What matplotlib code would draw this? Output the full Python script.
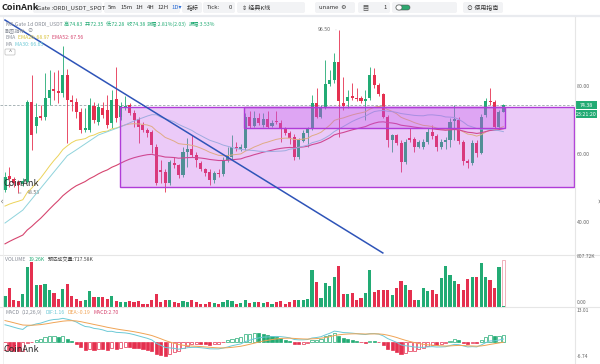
import numpy as np
import pandas as pd
import matplotlib
matplotlib.use("Agg")
import matplotlib.pyplot as plt
from matplotlib.patches import Rectangle, FancyBboxPatch

plt.rcParams["font.family"] = ["Noto Sans CJK SC", "DejaVu Sans"]

W, H = 600, 364
X0, STEP = 5, 4.45          # pixel of first candle, candle spacing
PLOT_RIGHT = 575

UP, DOWN = "#22ab74", "#e5304f"
GRAY = "#8a8f99"

# ---- daily ORDI/USDT candles ----
opens = [49.4, 53.5, 52.5, 51.9, 51.2, 51.9, 75.4, 68.2, 71.2, 70.8,
         76.6, 79.0, 78.5, 77.8, 83.2, 75.9, 75.4, 72.4, 67.1, 67.1,
         74.1, 69.5, 73.4, 72.9, 69.0, 76.1, 71.0, 73.6, 74.4, 72.2,
         70.2, 68.5, 67.1, 66.6, 62.2, 55.3, 54.8, 51.4, 57.4, 56.8,
         53.8, 60.7, 61.4, 59.7, 57.4, 55.5, 54.8, 52.3, 54.5, 54.1,
         58.2, 59.2, 62.2, 61.5, 61.7, 70.8, 68.2, 70.5, 68.5, 70.2,
         68.2, 69.8, 69.2, 67.5, 66.1, 65.1, 59.2, 63.9, 66.1, 67.5,
         74.9, 71.0, 73.7, 80.6, 81.8, 87.2, 74.9, 75.6, 77.0, 76.6,
         76.4, 75.6, 76.4, 83.2, 80.3, 77.6, 71.0, 64.1, 65.6, 63.1,
         57.7, 64.6, 64.3, 62.2, 62.1, 63.6, 66.6, 65.3, 62.0, 63.6,
         64.1, 69.8, 70.0, 63.6, 58.0, 57.4, 63.3, 60.2, 71.5, 75.7,
         75.3, 68.0, 72.35]
highs = [54.8, 56.3, 53.3, 52.3, 52.8, 75.9, 83.2, 74.9, 74.4, 83.7,
         84.7, 84.2, 84.7, 91.8, 85.0, 77.4, 76.4, 73.4, 73.5, 76.4,
         75.4, 75.0, 75.4, 77.4, 78.8, 85.7, 75.4, 77.0, 75.0, 73.0,
         70.8, 69.5, 67.5, 67.0, 63.0, 58.2, 55.5, 58.2, 59.2, 57.2,
         62.2, 64.6, 65.6, 60.5, 58.0, 56.0, 55.5, 55.0, 55.5, 59.0,
         62.2, 65.6, 63.5, 63.0, 72.0, 72.5, 72.5, 72.0, 72.0, 72.5,
         70.0, 72.5, 70.0, 68.0, 66.8, 65.8, 64.8, 67.0, 68.0, 77.4,
         79.3, 74.5, 87.6, 84.7, 89.6, 96.5, 82.7, 78.8, 80.8, 79.3,
         77.0, 78.8, 85.7, 85.2, 80.8, 78.0, 71.5, 66.0, 66.0, 64.0,
         64.3, 67.5, 65.0, 64.0, 64.3, 67.5, 68.5, 66.0, 64.3, 65.0,
         70.5, 74.4, 71.0, 64.0, 58.5, 64.0, 64.0, 71.8, 76.5, 79.3,
         75.8, 72.8, 74.83]
lows = [48.9, 50.4, 50.4, 48.53, 50.6, 51.5, 61.2, 66.1, 70.0, 70.0,
        74.4, 75.9, 74.9, 76.9, 63.1, 72.5, 70.5, 66.1, 66.6, 66.6,
        69.0, 68.5, 70.5, 67.5, 67.5, 69.5, 70.0, 73.0, 71.5, 68.0,
        63.1, 66.5, 65.0, 60.2, 50.9, 51.4, 48.9, 50.9, 55.8, 53.0,
        53.3, 56.3, 59.0, 56.3, 55.0, 53.5, 50.9, 51.5, 53.3, 53.5,
        57.5, 58.5, 61.0, 61.0, 61.2, 67.5, 67.8, 68.5, 68.0, 67.5,
        67.8, 68.8, 63.6, 65.5, 63.0, 58.2, 58.5, 63.5, 62.2, 67.0,
        70.5, 70.5, 73.2, 80.0, 81.0, 65.1, 73.0, 73.4, 76.0, 75.6,
        75.0, 70.0, 75.8, 79.5, 77.0, 70.5, 62.2, 60.7, 62.5, 54.8,
        57.0, 63.5, 60.5, 61.8, 61.5, 63.0, 64.5, 61.0, 61.5, 61.5,
        62.0, 64.0, 63.0, 56.8, 55.8, 56.8, 59.0, 60.0, 71.0, 74.5,
        67.3, 67.5, 72.28]
closes = [53.3, 52.5, 51.4, 50.9, 52.1, 75.4, 65.6, 71.0, 70.7, 76.4,
          78.8, 78.6, 78.0, 83.2, 75.9, 75.4, 72.4, 67.1, 67.6, 74.4,
          70.0, 73.7, 71.5, 68.5, 75.9, 70.5, 74.1, 74.1, 72.2, 70.0,
          68.0, 67.1, 66.1, 62.6, 51.4, 54.8, 51.4, 57.7, 56.8, 53.8,
          60.7, 61.4, 59.7, 58.2, 55.5, 54.3, 52.3, 54.3, 54.1, 58.2,
          59.7, 62.2, 61.7, 62.0, 71.0, 68.2, 70.5, 69.0, 70.2, 68.0,
          69.2, 69.3, 67.5, 66.1, 64.6, 59.2, 64.1, 66.1, 67.5, 74.9,
          71.0, 73.7, 80.6, 81.8, 87.2, 75.7, 74.1, 76.9, 76.6, 76.2,
          75.6, 76.3, 83.2, 80.3, 77.6, 71.0, 64.1, 65.6, 63.3, 57.7,
          63.6, 64.1, 62.0, 63.5, 63.6, 66.6, 65.3, 62.0, 63.6, 64.1,
          69.5, 70.2, 63.9, 58.0, 57.4, 63.3, 60.2, 71.0, 75.7, 75.3,
          68.0, 72.4, 74.38]
volumes_k = [161, 292, 101, 91, 201, 614, 680, 327, 327, 352,
             262, 211, 126, 277, 352, 161, 126, 91, 111, 237,
             151, 151, 151, 126, 161, 86, 75, 75, 86, 75,
             91, 40, 40, 111, 201, 75, 101, 111, 75, 60,
             91, 75, 101, 75, 40, 50, 75, 60, 50, 75,
             111, 91, 40, 60, 101, 60, 75, 75, 65, 75,
             40, 75, 91, 50, 75, 101, 111, 111, 126, 564,
             378, 136, 367, 312, 463, 619, 201, 201, 216, 101,
             136, 211, 564, 226, 262, 262, 262, 176, 287, 388,
             337, 252, 101, 101, 292, 242, 262, 191, 443, 629,
             493, 392, 352, 252, 428, 453, 463, 664, 453, 412,
             287, 604, 19.26]
est_volume_k = 717.58

# MA30 before 30 closes are available
ma30_early_idx = [0, 4, 14, 16, 21, 26]
ma30_early_val = [39.7, 43.5, 59.5, 61.2, 65.6, 68.0]

# indicator values just before the first visible candle
ema12_seed, ema26_seed, ema52_seed, dea_seed = 51.8, 44.0, 32.8, 9.6

# drawings on the chart
trend_idx = [0, 84.9]
trend_price = [99.4, 30.9]
zones = [(25.8, 127.9, 50.4, 73.9), (53.7, 112.4, 67.6, 73.9)]
last_price = 74.38
price_ticks = [80, 60, 40]


def px_rect(x0, y0, x1, y1):
    return [x0 / W, 1 - y1 / H, (x1 - x0) / W, (y1 - y0) / H]


def price_at(y):
    return 80 - (y - 86) / 3.4


def ema(values, n, seed):
    alpha = 2 / (n + 1)
    out, prev = [], seed
    for v in values:
        prev = prev + alpha * (v - prev)
        out.append(prev)
    return np.array(out)


o, h, l, c = map(np.array, (opens, highs, lows, closes))
idx = np.arange(len(c))
up = c >= o
colors = np.where(up, UP, DOWN)

ema26 = ema(c, 26, ema26_seed)
ema52 = ema(c, 52, ema52_seed)
ma30 = pd.Series(c).rolling(30).mean().to_numpy()
ma30_x = ma30_early_idx + list(idx[29:])
ma30_y = ma30_early_val + list(ma30[29:])

dif = ema(c, 12, ema12_seed) - ema26
dea = ema(dif, 9, dea_seed)
hist = 2 * (dif - dea)

fig = plt.figure(figsize=(W / 100, H / 100), dpi=100)
fig.patch.set_facecolor("white")
xlim = (-X0 / STEP, (PLOT_RIGHT - X0) / STEP)

# ---- price panel ----
ax = fig.add_axes(px_rect(0, 17, PLOT_RIGHT, 255))
ax.set_xlim(*xlim)
ax.set_ylim(price_at(255), price_at(17))
ax.axis("off")
ax.vlines(idx, l, h, color=colors, lw=0.6, zorder=2)
ax.bar(idx, np.maximum(np.abs(c - o), 0.2), bottom=np.minimum(o, c),
       width=0.68, color=colors, zorder=3)
ax.plot(idx, ema26, color="#ecd35a", lw=0.7, zorder=4)
ax.plot(idx, ema52, color="#d6456f", lw=0.8, zorder=4)
ax.plot(ma30_x, ma30_y, color="#8fd3dc", lw=0.7, zorder=4)
ax.axhline(last_price, color="#9aa7ab", lw=0.6, ls=(0, (3, 2)), zorder=1)
for x0, x1, lo, hi in zones:
    ax.add_patch(Rectangle((x0, lo), x1 - x0, hi - lo, fc="#c050e8",
                           alpha=0.3, ec="none", zorder=5))
    ax.add_patch(Rectangle((x0, lo), x1 - x0, hi - lo, fc="none",
                           ec="#b03cd8", lw=1.0, zorder=6))
ax.plot(trend_idx, trend_price, color="#2e54b8", lw=1.1, zorder=7)

top = int(np.argmax(h))
bot = int(np.argmin(l))
ax.annotate(f"{h[top]:.2f}", (top, h[top]), xytext=(-6, 0),
            textcoords="offset points", ha="right", va="center",
            fontsize=3.8, color="#666",
            arrowprops=dict(arrowstyle="-", color="#999", lw=0.5))
ax.annotate(f"{l[bot]:.2f}", (bot, l[bot]), xytext=(6, 0),
            textcoords="offset points", ha="left", va="center",
            fontsize=3.8, color="#666",
            arrowprops=dict(arrowstyle="-", color="#999", lw=0.5))

# ---- volume panel ----
axv = fig.add_axes(px_rect(0, 255, PLOT_RIGHT, 307))
axv.set_xlim(*xlim)
axv.set_ylim(0, 790)
axv.axis("off")
axv.bar(idx[-1], est_volume_k, width=0.7, fc="white", ec="#eda3b0", lw=0.6)
axv.bar(idx, volumes_k, width=0.7, color=colors)

# ---- MACD panel ----
axm = fig.add_axes(px_rect(0, 307, PLOT_RIGHT, 358))
axm.set_xlim(*xlim)
axm.set_ylim(-7.0, 15.0)
axm.axis("off")
rising = np.r_[True, hist[1:] >= hist[:-1]]
for i, v in enumerate(hist):
    col = UP if v >= 0 else DOWN
    hollow = (v >= 0 and rising[i]) or (v < 0 and rising[i])
    axm.bar(i, v, width=0.7, fc="white" if hollow else col, ec=col, lw=0.5)
axm.plot(idx, dif, color="#6cc9d6", lw=0.7)
axm.plot(idx, dea, color="#f0a455", lw=0.7)

# ---- overlay in pixel coordinates ----
ov = fig.add_axes([0, 0, 1, 1])
ov.set_xlim(0, W)
ov.set_ylim(H, 0)
ov.axis("off")
ov.patch.set_alpha(0)
renderer = fig.canvas.get_renderer()


def segments(x, y, parts, fs=4.0, gap=2.0):
    for s, col in parts:
        t = ov.text(x, y, s, color=col, fontsize=fs, ha="left", va="center")
        x += t.get_window_extent(renderer=renderer).width + gap


# frame lines
ov.plot([0, W], [16, 16], color="#e9ebef", lw=1.6)
ov.plot([0, W], [255, 255], color="#e6e6e6", lw=0.8)
ov.plot([0, W], [307, 307], color="#e6e6e6", lw=0.8)
ov.plot([PLOT_RIGHT, PLOT_RIGHT], [17, H], color="#e6e6e6", lw=0.8)
ov.plot([2.5, 2.5], [17, H], color="#eeeeee", lw=0.6)

# toolbar
for x0, x1 in [(33, 102), (104, 180), (182, 202), (203, 235), (237, 305),
               (315, 355), (358, 390), (392, 457), (463, 503)]:
    ov.add_patch(FancyBboxPatch((x0, 2), x1 - x0, 11,
                                boxstyle="round,pad=0,rounding_size=2",
                                fc="#f2f3f5", ec="none"))
ov.text(2, 8, "CoinAnk", fontsize=6.5, fontweight="bold", color="#222",
        va="center")
ov.text(37, 7.5, "Gate :ORDI_USDT_SPOT", fontsize=4.3, color="#333",
        va="center")
segments(108, 7.5, [("5m", "#333"), ("15m", "#333"), ("1H", "#333"),
                    ("4H", "#333"), ("12H", "#333"), ("1D▾", "#2f6fd6")],
         fs=4.3, gap=3.2)
ov.text(187, 7.5, "指标", fontsize=4.3, color="#333", va="center")
ov.text(207, 7.5, "Tick:", fontsize=4.3, color="#333", va="center")
ov.text(229, 7.5, "0", fontsize=4.3, color="#333", va="center")
ov.text(242, 7.5, "⇕ 经典K线", fontsize=4.3, color="#333", va="center")
ov.text(319, 7.5, "uname  ⚙", fontsize=4.3, color="#333", va="center")
ov.text(362, 7.5, "▦", fontsize=4.3, color="#555", va="center")
ov.text(383, 7.5, "1", fontsize=4.3, color="#333", va="center")
ov.add_patch(FancyBboxPatch((396, 5), 14, 5, boxstyle="round,pad=0,rounding_size=2.5",
                            fc="#2ea86f", ec="#555", lw=0.4))
ov.add_patch(FancyBboxPatch((396, 5), 6, 5, boxstyle="round,pad=0,rounding_size=2.5",
                            fc="white", ec="#555", lw=0.4))
ov.text(467, 7.5, "⊙ 使用指南", fontsize=4.3, color="#333", va="center")

# price panel legend
segments(5, 24, [("K线", GRAY), ("Gate 1d ORDI_USDT", GRAY), ("高:74.83", UP),
                 ("开:72.35", UP), ("低:72.28", UP), ("收:74.38", UP),
                 ("涨幅:2.81%(2.03)", UP), ("振幅:3.53%", UP)], fs=3.7, gap=1.5)
segments(5, 30.5, [("副图指标", GRAY), ("⊘", GRAY)], fs=3.7)
segments(5, 37.5, [("EMA", GRAY), ("EMA26: 68.97", "#d9c23a"),
                   ("EMA52: 67.56", "#d6456f")], fs=3.7, gap=3)
segments(5, 44.5, [("MA", GRAY), ("MA30: 66.65", "#6cc9d6")], fs=3.7, gap=3)
ov.add_patch(FancyBboxPatch((5, 49), 10, 6, boxstyle="round,pad=0,rounding_size=1",
                            fc="white", ec="#bbb", lw=0.5))
ov.text(10, 52.5, "^", fontsize=4, color="#666", ha="center", va="center")

segments(5, 259.5, [("VOLUME", GRAY), ("19.26K", UP),
                    ("预估成交量:717.58K", "#444")], fs=3.7, gap=3)
segments(5, 312, [("MACD", GRAY), ("(12,26,9)", GRAY), ("DIF:1.16", "#6cc9d6"),
                  ("DEA:-0.19", "#f0a455"), ("MACD:2.70", "#d6456f")],
         fs=3.7, gap=3)

# right axis labels
for p in price_ticks:
    y = 86 + (80 - p) * 3.4
    ov.text(577, y, f"{p:.2f}", fontsize=3.8, color="#666", va="center")
yb = 86 + (80 - last_price) * 3.4
ov.add_patch(Rectangle((575, yb - 4), 22, 8, fc=UP, ec="none"))
ov.text(586, yb, f"{last_price:.2f}", fontsize=3.8, color="white",
        ha="center", va="center")
ov.add_patch(Rectangle((575, yb + 5), 22, 8, fc=UP, ec="none"))
ov.text(586, yb + 9, "23:21:20", fontsize=3.8, color="white",
        ha="center", va="center")
ov.text(577, 256.5, "807.72K", fontsize=3.6, color="#666", va="center")
ov.text(577, 303, "0.00", fontsize=3.6, color="#666", va="center")
ov.text(577, 310.5, "13.01", fontsize=3.6, color="#666", va="center")
ov.text(577, 356.5, "-6.74", fontsize=3.6, color="#666", va="center")

ov.text(1, 201, "‹", fontsize=6, color="#555", va="center")
ov.text(597, 201, "›", fontsize=6, color="#555", va="center")

# watermarks
ov.text(3, 183, "CoinAnk", fontsize=6.5, color="#2a2a2a", va="center")
ov.text(3, 349, "CoinAnk", fontsize=6.5, color="#2a2a2a", va="center")

fig.savefig("out.png", dpi=100)
